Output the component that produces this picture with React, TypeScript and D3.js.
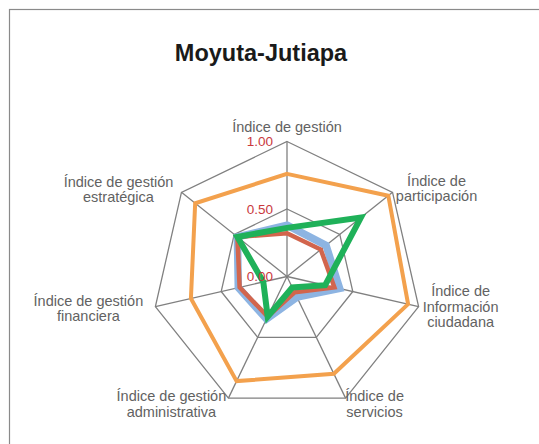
import React, { useEffect, useRef } from 'react'
import * as d3 from 'd3'

const title = "Moyuta-Jutiapa"

const categories = [
  ["Índice de gestión"],
  ["Índice de", "participación"],
  ["Índice de", "Información", "ciudadana"],
  ["Índice de", "servicios"],
  ["Índice de gestión", "administrativa"],
  ["Índice de gestión", "financiera"],
  ["Índice de gestión", "estratégica"],
]

const tickValues = [0, 0.5, 1]

const seriesBlue = [0.38, 0.37, 0.40, 0.17, 0.35, 0.37, 0.47]
const seriesRed = [0.32, 0.32, 0.36, 0.13, 0.33, 0.36, 0.47]
const seriesOrange = [0.76, 0.96, 0.92, 0.80, 0.86, 0.73, 0.87]
const seriesGreen = [0.36, 0.70, 0.29, 0.09, 0.33, 0.18, 0.47]

// label offsets from the outer vertex (layout only)
const labelOffsets = [[0, -15], [44, -4], [42, 0], [29, 6], [-57, 6], [-67, 2], [-63, -3]]

const W = 539, H = 444
const cx = 287, cy = 276.5, R = 135

function drawRadar(el: SVGSVGElement) {
  const svg = d3.select(el)
  svg.selectAll("*").remove()

  const r = d3.scaleLinear().domain([0, 1]).range([0, R])
  const n = categories.length
  const angle = d3.scaleLinear().domain([0, n]).range([0, 2 * Math.PI])
  const pt = (i: number, v: number): [number, number] => [
    cx + r(v) * Math.sin(angle(i)),
    cy - r(v) * Math.cos(angle(i)),
  ]

  svg.append("rect")
    .attr("x", 9.5).attr("y", 9.5)
    .attr("width", W + 10).attr("height", H + 10)
    .attr("fill", "white").attr("stroke", "#8a8a8a").attr("stroke-width", 1.2)

  svg.append("text")
    .attr("x", 261).attr("y", 61)
    .attr("text-anchor", "middle")
    .style("font-family", "'Liberation Sans', Arial, sans-serif")
    .style("font-weight", "bold").style("font-size", "23.5px")
    .attr("fill", "#1a1a1a")
    .text(title)

  const g = svg.append("g")

  // grid rings
  tickValues.filter(t => t > 0).forEach(t => {
    g.append("path")
      .attr("d", "M" + d3.range(n).map(i => pt(i, t).join(",")).join("L") + "Z")
      .attr("fill", "none").attr("stroke", "#808080").attr("stroke-width", 1.3)
  })
  // spokes
  d3.range(n).forEach(i => {
    const [x, y] = pt(i, 1)
    g.append("line")
      .attr("x1", cx).attr("y1", cy).attr("x2", x).attr("y2", y)
      .attr("stroke", "#808080").attr("stroke-width", 1.3)
  })

  const line = d3.lineRadial<number>()
    .angle((_d, i) => angle(i))
    .radius(d => r(d))
    .curve(d3.curveLinearClosed)

  const series = [
    { values: seriesBlue, color: "#8db4e2", width: 7.5 },
    { values: seriesRed, color: "#d2654d", width: 4.5 },
    { values: seriesOrange, color: "#f3a14d", width: 4 },
    { values: seriesGreen, color: "#1fb159", width: 6 },
  ]
  g.selectAll("path.serie").data(series).join("path")
    .attr("class", "serie")
    .attr("transform", `translate(${cx},${cy})`)
    .attr("d", d => line(d.values))
    .attr("fill", "none")
    .attr("stroke", d => d.color)
    .attr("stroke-width", d => d.width)
    .attr("stroke-linejoin", "miter")

  // tick labels
  g.selectAll("text.tick").data(tickValues).join("text")
    .attr("class", "tick")
    .attr("x", cx - 14).attr("y", d => cy - r(d))
    .attr("dy", "0.35em")
    .attr("text-anchor", "end")
    .style("font-family", "'Liberation Sans', Arial, sans-serif")
    .style("font-size", "13.5px")
    .attr("fill", "#c9393e")
    .text(d => d3.format(".2f")(d))

  // category labels
  categories.forEach((lines, i) => {
    const [x, y] = pt(i, 1)
    const lx = x + labelOffsets[i][0], ly = y + labelOffsets[i][1]
    const t = g.append("text")
      .attr("text-anchor", "middle")
      .style("font-family", "'Liberation Sans', Arial, sans-serif")
      .style("font-size", "14.5px")
      .attr("fill", "#626262")
    lines.forEach((s, k) => {
      t.append("tspan")
        .attr("x", lx)
        .attr("y", ly + (k - (lines.length - 1) / 2) * 15.5)
        .attr("dy", "0.35em")
        .text(s)
    })
  })
}

export default function App() {
  const ref = useRef<SVGSVGElement>(null)
  useEffect(() => {
    if (ref.current) drawRadar(ref.current)
  })
  return (
    <svg ref={ref} width={W} height={H}
      style={{ position: "absolute", left: 0, top: 0, background: "white" }} />
  )
}
